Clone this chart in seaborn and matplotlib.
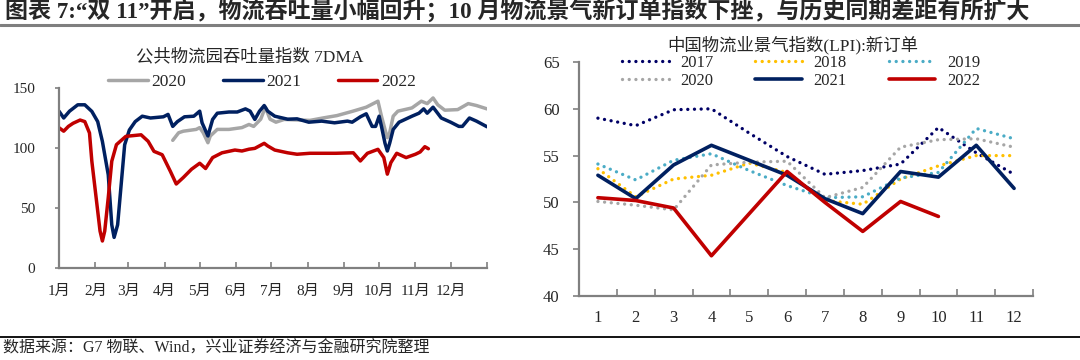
import matplotlib.pyplot as plt
import seaborn as sns
import pandas as pd
from matplotlib.lines import Line2D

# left panel: 7DMA throughput index, x = day of year
days_2020 = [97, 102, 106, 117, 120, 123, 127, 129, 135, 145, 156, 162, 166, 172, 176, 180, 185, 192, 214, 225,
             237, 250, 262, 272, 275, 278, 280, 282, 285, 289, 301, 309, 314, 319, 323, 329, 340, 349, 356, 365]
vals_2020 = [106.4, 112.7, 114, 115.5, 117, 112.7, 104.4, 110, 115.5, 115.5, 117, 119.6, 118, 124, 134, 124, 121.5,
             123.8, 123, 125, 127, 130.5, 134, 139, 126.5, 115.5, 108.6, 112.7, 126.5, 130.7, 133.4, 139, 137, 141.7,
             136, 131.5, 132, 137, 135.4, 132.6]

days_2021 = [0, 4, 9, 16, 22, 28, 33, 37, 42, 45, 47, 50, 53, 56, 60, 65, 71, 78, 89, 93,
             97, 101, 107, 115, 120, 122, 127, 131, 135, 145, 152, 159, 163, 167, 171, 175, 178, 184, 195, 203,
             213, 224, 235, 246, 250, 257, 262, 267, 270, 273, 275, 278, 280, 282, 285, 290, 301, 307, 311, 314,
             319, 326, 334, 341, 344, 350, 356, 365]
vals_2021 = [130.7, 125, 130.7, 136, 136, 130.5, 122, 105.5, 77.7, 36, 25.5, 36, 69.4, 102.7, 115, 122, 126.5, 125,
             126, 128, 118, 122, 126, 126.5, 130.7, 121, 110, 123.8, 129, 130, 130, 132.6, 130.7, 123.8, 130.7, 135.4,
             130.7, 126.5, 124, 124.3, 121.5, 122.4, 121, 122.4, 121.5, 126, 128.5, 118, 118, 126.5, 118, 104, 97.5,
             104, 115.5, 121.5, 126.5, 129, 132.6, 129, 134, 125, 121.5, 118, 118, 125, 122.4, 117.7]

days_2022 = [0, 4, 8, 12, 18, 22, 26, 28, 32, 35, 37, 39, 42, 45, 49, 57, 70, 76, 81, 88,
             95, 100, 106, 113, 120, 125, 131, 139, 150, 156, 162, 167, 175, 178, 184, 195, 203, 214, 236, 251,
             257, 263, 272, 277, 280, 283, 288, 296, 304, 308, 312, 315]
vals_2022 = [116.9, 114, 118, 120.6, 123.3, 122, 112.5, 89, 55.8, 30.8, 22.5, 30.8, 58.6, 89, 102.8, 109.7, 111,
             105.6, 97.2, 94.4, 80.5, 70, 75.4, 82.3, 87.3, 82.9, 92, 96, 98.3, 97.5, 99, 99.7, 103.9, 101.7, 98.3,
             96, 94.8, 95.6, 95.6, 96, 89.2, 95.6, 98.9, 92, 78.2, 87.8, 95.6, 92, 94.8, 96.7, 101.1, 99.4]

month_starts = [0, 31, 59, 90, 120, 151, 181, 212, 243, 273, 304, 334, 365]
month_labels = ["1月", "2月", "3月", "4月", "5月", "6月", "7月", "8月", "9月", "10月", "11月", "12月"]

# right panel: LPI new orders
months = list(range(1, 13))
lpi_2017 = [59.0, 58.2, 59.9, 60.0, 57.4, 54.9, 53.0, 53.4, 54.1, 58.0, 55.3, 53.0]
lpi_2018 = [53.6, 50.6, 52.5, 52.9, 54.2, 53.2, 50.2, 49.8, 52.5, 53.9, 55.0, 55.0]
lpi_2019 = [54.1, 52.4, 54.5, 55.2, 53.4, 51.8, 50.5, 50.6, 52.6, 53.2, 57.9, 56.8]
lpi_2020 = [50.1, 49.7, 49.2, 54.0, 54.3, 54.4, 50.5, 51.6, 55.9, 56.7, 56.8, 55.9]
lpi_2021 = [52.9, 50.4, 54.0, 56.1, 54.5, 52.9, 50.4, 48.8, 53.3, 52.7, 56.1, 51.5]
lpi_2022 = [50.5, 50.2, 49.4, 44.3, 48.8, 53.3, 50.0, 46.9, 50.1, 48.5]

sns.set_theme(style="ticks")
plt.rcParams["font.family"] = ["Liberation Serif", "Noto Sans CJK SC"]
plt.rcParams["axes.unicode_minus"] = False

NAVY = "#002060"
RED = "#C00000"
GRAY = "#A6A6A6"
SPINE = "#808080"

W, H = 1080, 360
fig = plt.figure(figsize=(W / 100, H / 100), dpi=100)
ax1 = fig.add_axes([59 / W, 1 - 268 / H, (487 - 59) / W, (268 - 88) / H])
ax2 = fig.add_axes([579 / W, 1 - 296 / H, (1033 - 579) / W, (296 - 62) / H])

# ---- left panel
left_series = [("2020", days_2020, vals_2020, GRAY),
               ("2021", days_2021, vals_2021, NAVY),
               ("2022", days_2022, vals_2022, RED)]
for name, d, v, c in left_series:
    df = pd.DataFrame({"day": d, "value": v})
    sns.lineplot(data=df, x="day", y="value", ax=ax1, color=c, lw=2.5, legend=False)

ax1.set_xlim(0, 365)
ax1.set_ylim(0, 150)
ax1.set_yticks([0, 50, 100, 150])
ax1.set_xticks(month_starts)
ax1.set_xticklabels(month_labels + [""])
ax1.tick_params(axis="x", direction="in", length=4, width=1.2, color=SPINE, pad=12, labelsize=11)
ax1.tick_params(axis="y", direction="out", length=3, width=1.2, color=SPINE, pad=14, labelsize=11)
ax1.set_xlabel("")
ax1.set_ylabel("")
ax1.legend(ax1.get_lines(), [s[0] for s in left_series], loc="center",
           bbox_to_anchor=(262 / W, 1 - 82 / H), bbox_transform=fig.transFigure,
           ncol=3, frameon=False, fontsize=12.5, handlelength=2.3, handletextpad=0.2,
           columnspacing=2.1, borderpad=0)

# ---- right panel
dot = (0, (0.01, 2.0))
right_series = [("2017", lpi_2017, "#000066", dot),
                ("2018", lpi_2018, "#FFC000", dot),
                ("2019", lpi_2019, "#4BACC6", dot),
                ("2020", lpi_2020, GRAY, dot),
                ("2021", lpi_2021, NAVY, "-"),
                ("2022", lpi_2022, RED, "-")]
for name, v, c, ls in right_series:
    df = pd.DataFrame({"month": months[:len(v)], "value": v})
    if ls == "-":
        sns.lineplot(data=df, x="month", y="value", ax=ax2, color=c, lw=2.6, legend=False)
    else:
        sns.lineplot(data=df, x="month", y="value", ax=ax2, color=c, lw=2.4,
                     linestyle=ls, dash_capstyle="round", legend=False)

ax2.set_xlim(0.5, 12.5)
ax2.set_ylim(40, 65)
ax2.set_yticks([40, 45, 50, 55, 60, 65])
ax2.set_xticks([m + 0.5 for m in range(0, 13)])
ax2.set_xticklabels([""] * 13)
ax2.set_xticks(months, minor=True)
ax2.set_xticklabels([str(m) for m in months], minor=True)
ax2.tick_params(axis="x", which="major", direction="in", length=5, width=1.2, color=SPINE)
ax2.tick_params(axis="x", which="minor", length=0, pad=10, labelsize=12)
ax2.tick_params(axis="y", direction="out", length=4, width=1.2, color=SPINE, pad=10, labelsize=12)
ax2.set_xlabel("")
ax2.set_ylabel("")
lines = ax2.get_lines()
order = [0, 3, 1, 4, 2, 5]
ax2.legend([lines[i] for i in order], [right_series[i][0] for i in order], loc="center",
           bbox_to_anchor=(801 / W, 1 - 72 / H), bbox_transform=fig.transFigure,
           ncol=3, frameon=False, fontsize=12, handlelength=2.8, handletextpad=0.7,
           columnspacing=2.5, labelspacing=0.15, borderpad=0)

for ax in (ax1, ax2):
    ax.spines["top"].set_visible(False)
    ax.spines["right"].set_visible(False)
    for s in ("left", "bottom"):
        ax.spines[s].set_color(SPINE)
        ax.spines[s].set_linewidth(1.6)

# ---- titles, rules, source
fig.text(5 / W, 1 - 12 / H,
         "图表 7:“双 11”开启，物流吞吐量小幅回升；10 月物流景气新订单指数下挫，与历史同期差距有所扩大",
         fontsize=16.6, fontweight="bold", ha="left", va="center")
fig.add_artist(Line2D([0, 1], [1 - 25 / H] * 2, transform=fig.transFigure, color="#7F7F7F", lw=2.2))
fig.text(250 / W, 1 - 57 / H, "公共物流园吞吐量指数 7DMA", fontsize=12.5, ha="center", va="center")
fig.text(793 / W, 1 - 45 / H, "中国物流业景气指数(LPI):新订单", fontsize=12.5, ha="center", va="center")
fig.add_artist(Line2D([0, 1], [1 - 337 / H] * 2, transform=fig.transFigure, color="black", lw=1.3))
fig.text(3 / W, 1 - 349 / H, "数据来源：G7 物联、Wind，兴业证券经济与金融研究院整理",
         fontsize=11.5, ha="left", va="center")

fig.savefig("out.png", dpi=100)
